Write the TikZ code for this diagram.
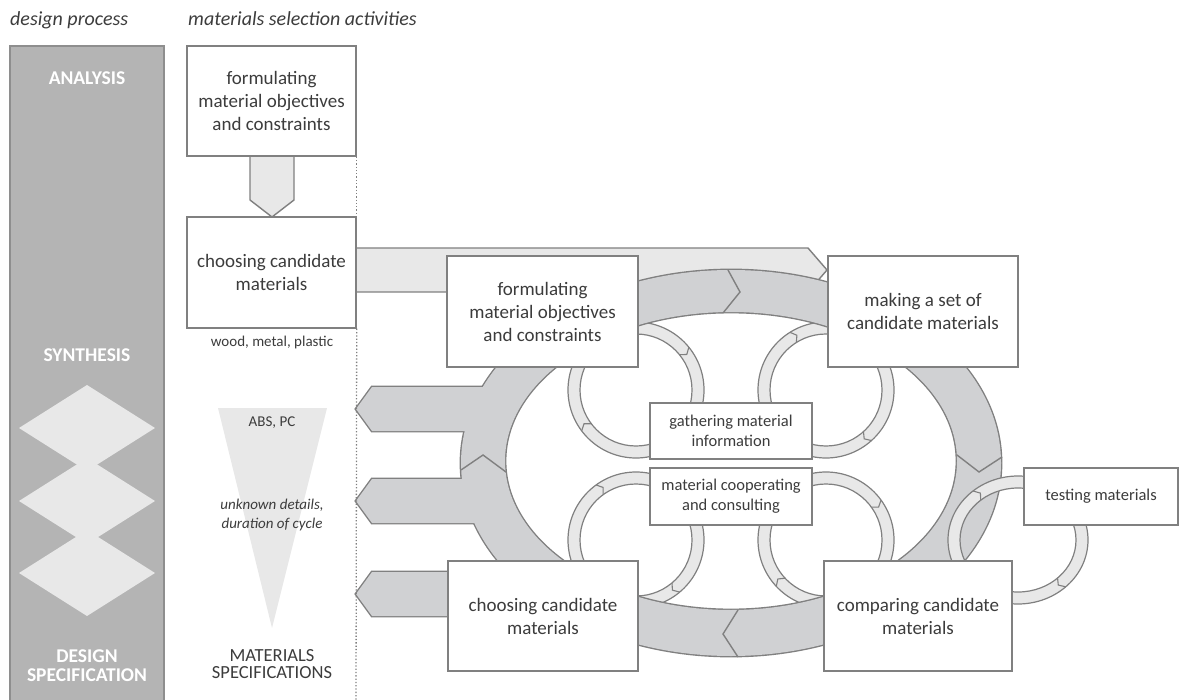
\documentclass[tikz,border=0pt]{standalone}
\usepackage{fontspec}
\setmainfont{Carlito}
\definecolor{edgegray}{HTML}{808080}
\definecolor{ringgray}{HTML}{D0D1D3}
\definecolor{lightfill}{HTML}{E8E8E8}
\definecolor{bargray}{HTML}{B4B4B4}
\definecolor{bardark}{HTML}{8E8E8E}
\definecolor{txt}{HTML}{3C3C3C}
\newcommand\SmallRing[4]{%
  \path[fill=lightfill, draw=edgegray, line width=1.2pt, even odd rule]
    (#1,#2) circle[radius=68pt] (#1,#2) circle[radius=56pt];
  \draw[edgegray, line width=1.1pt, shift={(#1,#2)}] (#3:56) -- (#3+4:62) -- (#3:68);
  \draw[edgegray, line width=1.1pt, shift={(#1,#2)}] (#4:56) -- (#4+4:62) -- (#4:68);
}
\begin{document}
\begin{tikzpicture}[x=1pt,y=-1pt,
  box/.style={draw=edgegray, line width=1.4pt, fill=white, inner sep=0pt, align=center,
    text=txt, font=\fontsize{19}{23}\selectfont},
  smallbox/.style={box, font=\fontsize{16.5}{20}\selectfont},
  title/.style={anchor=base west, inner sep=0pt, text=txt, font=\fontsize{20}{24}\selectfont\itshape},
  barlabel/.style={inner sep=0pt, align=center, text=white, font=\fontsize{19.5}{19}\selectfont\bfseries},
  note/.style={inner sep=0pt, align=center, text=txt, font=\fontsize{15}{19}\selectfont},
  shapeline/.style={draw=edgegray, line width=1.4pt},
  union/.style={draw=edgegray, line width=2.8pt, line join=miter}
]
\useasboundingbox (0,0) rectangle (1182,700);

% titles
\node[title] (t1) at (10,26) {design process};
\node[title] (t2) at (188,26) {materials selection activities};

% left bar
\draw[fill=bargray, draw=bardark, line width=1.2pt] (10,46) rectangle (164,702);
\foreach \cy in {428,501,573}{
  \fill[lightfill] (87,\cy-43) -- (155,\cy) -- (87,\cy+43) -- (19,\cy) -- cycle;
}
\node[barlabel] (an) at (87,78) {ANALYSIS};
\node[barlabel] (sy) at (87,355) {SYNTHESIS};
\node[barlabel] (ds) at (87,666) {DESIGN\\SPECIFICATION};

% funnel triangle
\fill[lightfill] (218,408) -- (327,408) -- (272,628) -- cycle;

% arrow A1 -> A2
\draw[shapeline, fill=lightfill, line join=miter] (250,150) -- (250,200) -- (272,217) -- (294,200) -- (294,150) -- cycle;

% top light arrow
\draw[shapeline, fill=lightfill, line join=miter] (350,248) -- (808,248) -- (827,270) -- (808,292) -- (350,292) -- cycle;

% small rings
\SmallRing{636}{390}{143}{321}
\SmallRing{826}{390}{238}{48}
\SmallRing{636}{540}{234}{50}
\SmallRing{826}{540}{324}{137}

% big ring with left arrows (union outline)
\draw[union] (731,463) ellipse [x radius=270pt, y radius=193pt];
\draw[union] (731,461) ellipse [x radius=226pt, y radius=149pt];
\draw[union] (500,387) -- (372,387) -- (356,409) -- (372,431) -- (500,431) -- cycle;
\draw[union] (495,479) -- (372,479) -- (356,501) -- (372,523) -- (495,523) -- cycle;
\draw[union] (470,572) -- (372,572) -- (356,594) -- (372,616) -- (470,616) -- cycle;
\fill[ringgray, even odd rule] (731,463) ellipse [x radius=270pt, y radius=193pt]
  (731,461) ellipse [x radius=226pt, y radius=149pt];
\fill[ringgray] (500,387) -- (372,387) -- (356,409) -- (372,431) -- (500,431) -- cycle;
\fill[ringgray] (495,479) -- (372,479) -- (356,501) -- (372,523) -- (495,523) -- cycle;
\fill[ringgray] (470,572) -- (372,572) -- (356,594) -- (372,616) -- (470,616) -- cycle;
% ring chevrons
\draw[shapeline] (728,270) -- (740,292) -- (723,313);
\draw[shapeline] (957,455) -- (979,472) -- (1002,457);
\draw[shapeline] (738,610) -- (723,634) -- (738,657);
\draw[shapeline] (461,470) -- (483,455) -- (506,472);

% testing ring
\path[fill=lightfill, draw=edgegray, line width=1.2pt, even odd rule]
  (1018,540) ellipse [x radius=70pt, y radius=64pt]
  (1018,540) ellipse [x radius=58pt, y radius=52pt];
\draw[edgegray, line width=1.1pt, shift={(1018,540)}] (230:58 and 52) -- (234:64 and 58) -- (230:70 and 64);
\draw[edgegray, line width=1.1pt, shift={(1018,540)}] (47:58 and 52) -- (51:64 and 58) -- (47:70 and 64);

% boxes
\node[box, minimum width=169pt, minimum height=110pt] (A1) at (271.5,101) {formulating\\material objectives\\and constraints};
\node[box, minimum width=169pt, minimum height=111pt] (A2) at (271.5,272.5) {choosing candidate\\materials};
\node[box, minimum width=191pt, minimum height=111pt] (B1) at (542.5,311.5) {formulating\\material objectives\\and constraints};
\node[box, minimum width=190pt, minimum height=111pt] (B2) at (923,311.5) {making a set of\\candidate materials};
\node[box, minimum width=190pt, minimum height=110pt] (B3) at (543,616) {choosing candidate\\materials};
\node[box, minimum width=188pt, minimum height=110pt] (B4) at (918,616) {comparing candidate\\materials};
\node[smallbox, minimum width=162pt, minimum height=56pt] (C1) at (731,431) {gathering material\\information};
\node[smallbox, minimum width=162pt, minimum height=57pt] (C2) at (731,496.5) {material cooperating\\and consulting};
\node[smallbox, minimum width=154pt, minimum height=57pt] (D) at (1101,496.5) {testing materials};

% dotted separator
\coordinate (bottom) at (356,700);
\draw[dotted, edgegray, line width=1.3pt] (A1.south east) -- (A2.north east);
\draw[dotted, edgegray, line width=1.3pt] (A2.south east) -- (bottom);

% notes
\node[note] (wmp) at (272,343) {wood, metal, plastic};
\node[note] (abs) at (272,423) {ABS, PC};
\node[note, font=\fontsize{15}{19}\selectfont\itshape] (unk) at (272,515) {unknown details,\\duration of cycle};
\node[note, font=\fontsize{18.5}{17.5}\selectfont] (ms) at (272,664) {MATERIALS\\SPECIFICATIONS};
\end{tikzpicture}
\end{document}
